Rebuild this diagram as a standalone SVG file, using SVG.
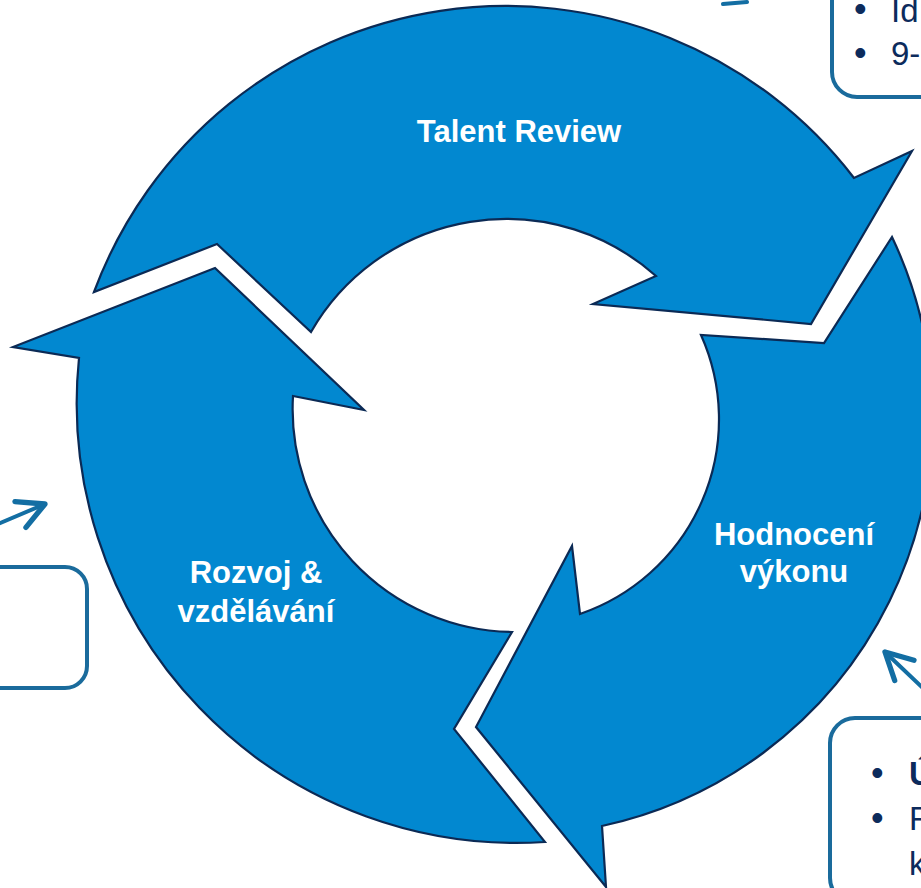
<svg xmlns="http://www.w3.org/2000/svg" width="921" height="888" viewBox="0 0 921 888">
<style>
.arr{fill:#0288d0;stroke:#0b2a55;stroke-width:2.2;stroke-linejoin:miter}
.lbl{font-family:"Liberation Sans",Arial,sans-serif;font-weight:bold;font-size:31px;fill:#ffffff;text-anchor:middle}
.box{fill:none;stroke:#1a6b9c;stroke-width:4}
.btxt{font-family:"Liberation Sans",Arial,sans-serif;font-size:33px;fill:#0c2b5c}
.bul{font-family:"Liberation Sans",Arial,sans-serif;font-size:36px;fill:#0c2b5c}
.con{fill:none;stroke:#136ea3;stroke-width:4;stroke-linecap:round}
</style>
<defs>
<marker id="head" markerUnits="userSpaceOnUse" markerWidth="40" markerHeight="40" viewBox="-25 -15 30 30" refX="0" refY="0" orient="auto">
<path d="M -20 -10.5 L 0 0 L -20 10.5" fill="none" stroke="#136ea3" stroke-width="4" stroke-linecap="round" stroke-linejoin="round"/>
</marker>
</defs>
<rect width="921" height="888" fill="#ffffff"/>
<g id="talent-review">
<path class="arr" d="M 94 292 A 439 439 0 0 1 854 178 L 912 151 L 811 324 L 593 304 L 656 276 A 225 225 0 0 0 311 332 L 217 244 Z"/>
<text class="lbl" x="519" y="142">Talent Review</text>
</g>
<g id="hodnoceni-vykonu">
<path class="arr" d="M 892 237 A 419 419 0 0 1 602 826 L 606 887 L 476 727 L 572 546 L 580 614 A 206 206 0 0 0 701 335 L 824 343 Z"/>
<text class="lbl" x="794" y="545">Hodnocení</text>
<text class="lbl" x="794" y="582">výkonu</text>
</g>
<g id="rozvoj-vzdelavani">
<path class="arr" d="M 545 842 A 440 440 0 0 1 79 358 L 13 347 L 215 268 L 364 410 L 293 396 A 223 223 0 0 0 512 632 L 454 729 Z"/>
<text class="lbl" x="256" y="583">Rozvoj &amp;</text>
<text class="lbl" x="256" y="622">vzdělávání</text>
</g>
<g id="box-top-right">
<rect class="box" x="832" y="-40" width="150" height="137" rx="25"/>
<text class="bul" x="854" y="21">•</text>
<text class="btxt" x="891" y="22">Id</text>
<text class="bul" x="854" y="65">•</text>
<text class="btxt" x="891" y="65">9-</text>
</g>
<g id="box-bottom-right">
<rect class="box" x="830" y="718" width="150" height="185" rx="25"/>
<text class="bul" x="871" y="785">•</text>
<text class="btxt" x="909" y="785" font-weight="bold">Ú</text>
<text class="bul" x="871" y="830">•</text>
<text class="btxt" x="909" y="830">F</text>
<text class="btxt" x="909" y="875">k</text>
</g>
<g id="box-left">
<rect class="box" x="-40" y="567" width="127" height="121" rx="22"/>
</g>
<g id="connectors">
<line class="con" x1="-2" y1="524" x2="45" y2="504" marker-end="url(#head)"/>
<line class="con" x1="925" y1="690" x2="885" y2="652" marker-end="url(#head)"/>
<path class="con" d="M 723 4 L 747 2"/>
</g>
</svg>
